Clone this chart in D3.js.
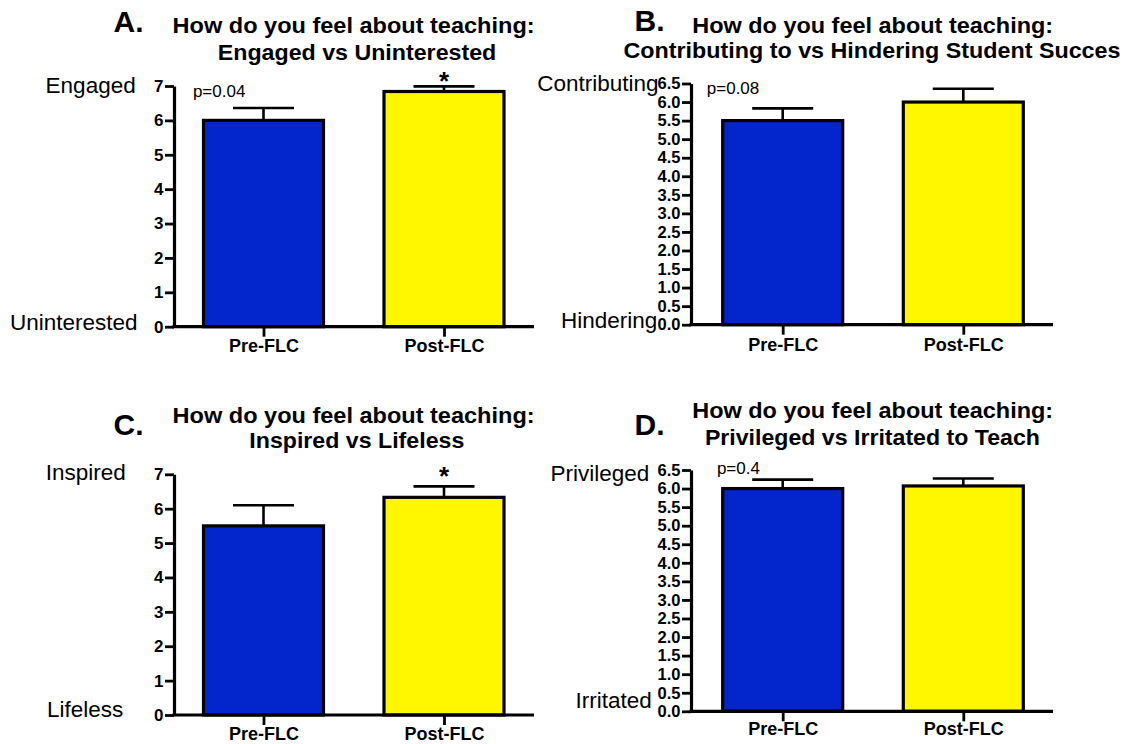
<!DOCTYPE html>
<html>
<head>
<meta charset="utf-8">
<script src="https://cdn.jsdelivr.net/npm/d3@7"></script>
<style>
  body { margin: 0; background: #fff; }
  svg { display: block; }
  text { font-family: "Liberation Sans", Arial, Helvetica, sans-serif; fill: #000; }
</style>
</head>
<body>
<svg id="chart" width="1130" height="744"></svg>
<script>
// ---- data ----
const groups = ["Pre-FLC", "Post-FLC"];
const panelLetters = ["A.", "B.", "C.", "D."];
const titleLead = "How do you feel about teaching:";
const titleTopics = [
  "Engaged vs Uninterested",
  "Contributing to vs Hindering Student Succes",
  "Inspired vs Lifeless",
  "Privileged vs Irritated to Teach"
];
const highAnchors = ["Engaged", "Contributing", "Inspired", "Privileged"];
const lowAnchors = ["Uninterested", "Hindering", "Lifeless", "Irritated"];

const engagedMean = [6.0, 6.84];
const engagedSem = [0.36, 0.15];
const contributingMean = [5.5, 6.0];
const contributingSem = [0.33, 0.36];
const inspiredMean = [5.5, 6.33];
const inspiredSem = [0.6, 0.32];
const privilegedMean = [6.0, 6.07];
const privilegedSem = [0.24, 0.2];

const pLabels = ["p=0.04", "p=0.08", "", "p=0.4"];
const starMarks = [["", "*"], ["", ""], ["", "*"], ["", ""]];

const wholeTicks = [0, 1, 2, 3, 4, 5, 6, 7];
const halfTicks = [0, 0.5, 1, 1.5, 2, 2.5, 3, 3.5, 4, 4.5, 5, 5.5, 6, 6.5];

const means = [engagedMean, contributingMean, inspiredMean, privilegedMean];
const sems = [engagedSem, contributingSem, inspiredSem, privilegedSem];

// ---- layout ----
const barColors = ["#0326CC", "#FFF700"];
const layout = [
  { x0: 174, x1: 534, yTop: 86, yBase: 326.7, centers: [263.5, 444], max: 7, ticks: wholeTicks, fmt: d3.format("d"),
    letter: [113.6, 32], t1: [353.6, 33, 362], t2: [357, 60, 278.5],
    hi: [135.7, 93], lo: [137.5, 330], p: [192.9, 97], starTop: 71.5, xlab: 25.5 },
  { x0: 691, x1: 1053, yTop: 83.5, yBase: 324.7, centers: [782.7, 963.3], max: 6.5, ticks: halfTicks, fmt: d3.format(".1f"),
    letter: [634.5, 30.7], t1: [872.7, 33, 361], t2: [872, 58, 497],
    hi: [658.6, 90.7], lo: [657.4, 328], p: [706.8, 94], starTop: 0, xlab: 26 },
  { x0: 174, x1: 534, yTop: 474.3, yBase: 715, centers: [263.5, 444], max: 7, ticks: wholeTicks, fmt: d3.format("d"),
    letter: [113.6, 435], t1: [353.6, 422.7, 362], t2: [356.8, 448.3, 215],
    hi: [125.7, 480], lo: [123.2, 717], p: [0, 0], starTop: 466.7, xlab: 25 },
  { x0: 691, x1: 1053, yTop: 470, yBase: 711.3, centers: [782.7, 963.3], max: 6.5, ticks: halfTicks, fmt: d3.format(".1f"),
    letter: [634.5, 435], t1: [872.7, 418.3, 361], t2: [872.4, 445, 335],
    hi: [649.4, 480.7], lo: [651.8, 708.3], p: [716.9, 474.3], starTop: 0, xlab: 24 }
];
const barWidth = 120;
const capWidth = 61;

const svg = d3.select("#chart");

layout.forEach((L, i) => {
  const g = svg.append("g");
  const x = d3.scalePoint().domain(groups).range(L.centers);
  const y = d3.scaleLinear().domain([0, L.max]).range([L.yBase, L.yTop]);

  const rows = groups.map((k, j) => ({ group: k, mean: means[i][j], sem: sems[i][j], star: starMarks[i][j], color: barColors[j] }));

  // error bars (upper half only), drawn beneath the bar outline
  g.selectAll(".err").data(rows).join("line")
    .attr("x1", d => x(d.group)).attr("x2", d => x(d.group))
    .attr("y1", d => y(d.mean)).attr("y2", d => y(d.mean + d.sem))
    .attr("stroke", "#000").attr("stroke-width", 2.6);
  g.selectAll(".cap").data(rows).join("line")
    .attr("x1", d => x(d.group) - capWidth / 2).attr("x2", d => x(d.group) + capWidth / 2)
    .attr("y1", d => y(d.mean + d.sem)).attr("y2", d => y(d.mean + d.sem))
    .attr("stroke", "#000").attr("stroke-width", 2.6);

  // bars
  g.selectAll(".bar").data(rows).join("rect")
    .attr("x", d => x(d.group) - barWidth / 2)
    .attr("width", barWidth)
    .attr("y", d => y(d.mean))
    .attr("height", d => y(0) - y(d.mean))
    .attr("fill", d => d.color)
    .attr("stroke", "#000").attr("stroke-width", 3.2);

  // y axis
  const yAxis = d3.axisLeft(y).tickValues(L.ticks).tickFormat(L.fmt)
    .tickSizeInner(9).tickSizeOuter(0).tickPadding(1.5);
  const ya = g.append("g").attr("transform", `translate(${L.x0},0)`).call(yAxis);
  ya.select(".domain").attr("stroke", "#000").attr("stroke-width", 3.2);
  ya.selectAll(".tick line").attr("stroke", "#000").attr("stroke-width", 2.8);
  ya.selectAll(".tick text")
    .attr("font-family", "'Liberation Sans', Arial, sans-serif")
    .attr("font-size", L.max === 7 ? 17 : 16.5).attr("font-weight", "bold").attr("fill", "#000");

  // x axis
  const xAxis = d3.axisBottom(x).tickSizeInner(10).tickSizeOuter(0).tickPadding(6);
  const xa = g.append("g").attr("transform", `translate(0,${L.yBase})`).call(xAxis);
  xa.select(".domain").attr("d", `M${L.x0 - 1.5},0H${L.x1}`).attr("stroke", "#000").attr("stroke-width", 3.2);
  xa.selectAll(".tick line").attr("stroke", "#000").attr("stroke-width", 2.8);
  xa.selectAll(".tick text")
    .attr("font-family", "'Liberation Sans', Arial, sans-serif")
    .attr("font-size", 18).attr("font-weight", "bold").attr("fill", "#000")
    .attr("dy", null).attr("y", L.xlab);

  // significance marks
  g.selectAll(".star").data(rows.filter(d => d.star)).join("text")
    .attr("x", d => x(d.group))
    .attr("y", L.starTop + 0.716 * 26)
    .attr("text-anchor", "middle")
    .attr("font-size", 26).attr("font-weight", "bold")
    .text(d => d.star);

  // p value
  if (pLabels[i]) {
    g.append("text").attr("x", L.p[0]).attr("y", L.p[1])
      .attr("font-size", 17).text(pLabels[i]);
  }

  // anchor labels for the scale ends
  g.append("text").attr("x", L.hi[0]).attr("y", L.hi[1])
    .attr("text-anchor", "end").attr("font-size", 22.5).text(highAnchors[i]);
  g.append("text").attr("x", L.lo[0]).attr("y", L.lo[1])
    .attr("text-anchor", "end").attr("font-size", 22.5).text(lowAnchors[i]);

  // panel letter and title
  g.append("text").attr("x", L.letter[0]).attr("y", L.letter[1])
    .attr("font-size", 30).attr("font-weight", "bold").text(panelLetters[i]);
  g.append("text").attr("x", L.t1[0]).attr("y", L.t1[1])
    .attr("text-anchor", "middle").attr("font-size", 22).attr("font-weight", "bold")
    .attr("textLength", L.t1[2]).attr("lengthAdjust", "spacingAndGlyphs")
    .text(titleLead);
  g.append("text").attr("x", L.t2[0]).attr("y", L.t2[1])
    .attr("text-anchor", "middle").attr("font-size", 22).attr("font-weight", "bold")
    .attr("textLength", L.t2[2]).attr("lengthAdjust", "spacingAndGlyphs")
    .text(titleTopics[i]);
});
</script>
</body>
</html>
